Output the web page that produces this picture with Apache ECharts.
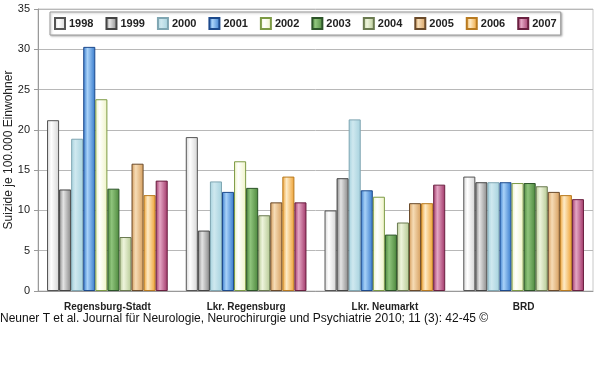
<!DOCTYPE html>
<html>
<head>
<meta charset="utf-8">
<script src="https://cdn.jsdelivr.net/npm/echarts@6/dist/echarts.min.js"></script>
<style>
  html, body { margin: 0; padding: 0; background: #fff; }
  #chart { width: 600px; height: 375px; }
</style>
</head>
<body>
<div id="chart"></div>
<script>
// Kategorien und Jahre
const regions = ['Regensburg-Stadt', 'Lkr. Regensburg', 'Lkr. Neumarkt', 'BRD'];
const years = ['1998', '1999', '2000', '2001', '2002', '2003', '2004', '2005', '2006', '2007'];

// Werte je Jahr (Suizide je 100.000 Einwohner)
const v1998 = [21.2, 19.1, 10.0, 14.2];
const v1999 = [12.6, 7.5, 14.0, 13.5];
const v2000 = [18.9, 13.6, 21.3, 13.5];
const v2001 = [30.3, 12.3, 12.5, 13.5];
const v2002 = [23.8, 16.1, 11.7, 13.4];
const v2003 = [12.7, 12.8, 7.0, 13.4];
const v2004 = [6.7, 9.4, 8.5, 13.0];
const v2005 = [15.8, 11.0, 10.9, 12.3];
const v2006 = [11.9, 14.2, 10.9, 11.9];
const v2007 = [13.7, 11.0, 13.2, 11.4];
const values = [v1998, v1999, v2000, v2001, v2002, v2003, v2004, v2005, v2006, v2007];

// Farben: Grundton, Glanzlicht, Rand
const palette = [
    ['#d4d4d4', '#ffffff', '#555555'],
    ['#868686', '#e4e4e4', '#444444'],
    ['#a6d2de', '#cfe8ef', '#7fa6b2'],
    ['#3579cc', '#a9d2f8', '#1d4a8c'],
    ['#eef3c4', '#ffffff', '#7c9a44'],
    ['#4c873c', '#8fc47c', '#2c5428'],
    ['#b5c993', '#eef4dc', '#6a7a50'],
    ['#d59d5c', '#f6dcb6', '#6a4a2a'],
    ['#eea030', '#fdebc8', '#b87a20'],
    ['#a03567', '#e4a6c4', '#6a2040']
];

function barGradient(c) {
    return new echarts.graphic.LinearGradient(0, 0, 1, 0, [
        { offset: 0, color: c[0] },
        { offset: 0.35, color: c[1] },
        { offset: 1, color: c[0] }
    ]);
}

const series = years.map((y, i) => ({
    name: y,
    type: 'bar',
    data: values[i],
    barGap: '0%',
    barCategoryGap: '13%',
    itemStyle: {
        color: barGradient(palette[i]),
        borderColor: palette[i][2],
        borderWidth: 1
    }
}));

const chart = echarts.init(document.getElementById('chart'));
chart.setOption({
    animation: false,
    backgroundColor: '#fff',
    textStyle: { fontFamily: 'Liberation Sans, Arial, sans-serif' },
    grid: {
        left: 38, right: 7, top: 9, bottom: 84,
        outerBoundsMode: 'none',
        containLabel: false,
        show: true, borderColor: '#c8c8c8', borderWidth: 1
    },
    legend: {
        left: 50, top: 12,
        padding: [5, 4],
        icon: 'rect',
        itemWidth: 10, itemHeight: 11, itemGap: 12,
        backgroundColor: '#fff',
        borderColor: '#9a9a9a', borderWidth: 1,
        shadowColor: 'rgba(0,0,0,0.25)', shadowBlur: 2, shadowOffsetX: 1, shadowOffsetY: 1,
        textStyle: { fontSize: 11, fontWeight: 'bold', color: '#222', padding: [0, 0, 0, -1] }
    },
    xAxis: {
        type: 'category',
        data: regions,
        axisLine: { lineStyle: { color: '#999' } },
        axisTick: { show: false },
        axisLabel: { fontSize: 10, fontWeight: 'bold', color: '#222', margin: 11 }
    },
    yAxis: {
        type: 'value',
        min: 0, max: 35, interval: 5,
        name: 'Suizide je 100.000 Einwohner',
        nameLocation: 'middle',
        nameGap: 23,
        nameMoveOverlap: false,
        nameTextStyle: { fontSize: 12, color: '#222' },
        axisLine: { show: true, lineStyle: { color: '#999' } },
        axisTick: { show: true, length: 4, lineStyle: { color: '#999' } },
        axisLabel: { fontSize: 11, color: '#222', margin: 8 },
        splitLine: { lineStyle: { color: '#b8b8b8' } }
    },
    graphic: [{
        type: 'text',
        left: 0, top: 313,
        style: {
            text: 'Neuner T et al. Journal für Neurologie, Neurochirurgie und Psychiatrie 2010; 11 (3): 42-45 ©',
            fontSize: 12,
            fontFamily: 'Liberation Sans, Arial, sans-serif',
            fill: '#111'
        }
    }],
    series: series
});
</script>
</body>
</html>
